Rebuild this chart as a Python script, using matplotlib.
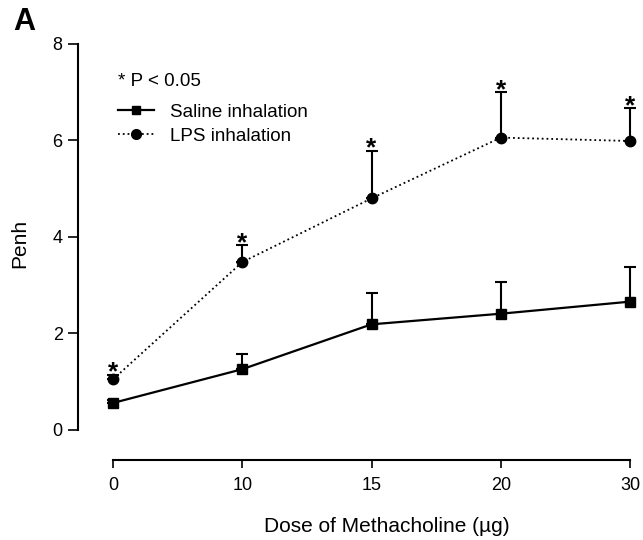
import matplotlib.pyplot as plt
from matplotlib.lines import Line2D
import numpy as np

plt.rcParams['font.family'] = ['Liberation Sans', 'DejaVu Sans']

# data
doses = ['0', '10', '15', '20', '30']
saline_mean = [0.56, 1.26, 2.19, 2.41, 2.66]
saline_err = [0.06, 0.32, 0.65, 0.66, 0.72]
lps_mean = [1.05, 3.48, 4.80, 6.06, 5.99]
lps_err = [0.10, 0.35, 0.99, 0.94, 0.68]

x = np.arange(len(doses))

fig = plt.figure(figsize=(6.43, 5.40), dpi=100)
ax = fig.add_axes([78 / 643, 80 / 540, 552 / 643, 416 / 540])

# error bars (upper only, solid)
ax.errorbar(x, saline_mean, yerr=[np.zeros(len(x)), saline_err], fmt='none',
            ecolor='black', elinewidth=1.5, capsize=4, capthick=1.5, clip_on=False)
ax.errorbar(x, lps_mean, yerr=[np.zeros(len(x)), lps_err], fmt='none',
            ecolor='black', elinewidth=1.5, capsize=4, capthick=1.5, clip_on=False)

ax.plot(x, saline_mean, '-s', color='black', lw=1.6, ms=7, clip_on=False, zorder=3)
ax.plot(x, lps_mean, ':o', color='black', lw=1.3, ms=7.5, clip_on=False, zorder=3)

# significance stars above LPS bars
for xi, m, e in zip(x, lps_mean, lps_err):
    ax.annotate('*', (xi, m + e), xytext=(0, -3.5), textcoords='offset points',
                ha='center', va='baseline', fontsize=19, fontweight='bold',
                annotation_clip=False)

ax.set_xlim(-0.271, 4)
ax.set_ylim(-0.622, 8)
ax.spines['top'].set_visible(False)
ax.spines['right'].set_visible(False)
ax.spines['left'].set_bounds(0, 8)
ax.spines['bottom'].set_bounds(0, 4)
ax.spines['left'].set_linewidth(1.5)
ax.spines['bottom'].set_linewidth(1.5)

ax.set_xticks(x, doses)
ax.set_yticks([0, 2, 4, 6, 8])
ax.tick_params(axis='y', direction='out', length=7, width=1.2, labelsize=13, pad=4)
ax.tick_params(axis='x', direction='out', length=6, width=1.2, labelsize=13, pad=6)

ax.set_ylabel('Penh', fontsize=15)
ax.yaxis.set_label_coords(-0.089, 0.52)
ax.set_xlabel('Dose of Methacholine (µg)', fontsize=15)
ax.xaxis.set_label_coords(0.56, -0.137)

# legend
handles = [Line2D([], [], color='black', ls='-', marker='s', lw=1.6, ms=6),
           Line2D([], [], color='black', ls=':', marker='o', lw=1.3, ms=7)]
ax.legend(handles, ['Saline inhalation', 'LPS inhalation'], loc='upper left',
          bbox_to_anchor=(0.0725, 0.856), frameon=False, fontsize=13.5,
          borderpad=0, borderaxespad=0, handlelength=1.9, handletextpad=0.85,
          labelspacing=0.35)
ax.text(0.0725, 0.91, '* P < 0.05', transform=ax.transAxes, fontsize=13.5,
        va='center', ha='left')

fig.text(13 / 643, 1 - 22 / 540, 'A', fontsize=22, fontweight='bold', va='center')

fig.savefig('out.png', dpi=100)
